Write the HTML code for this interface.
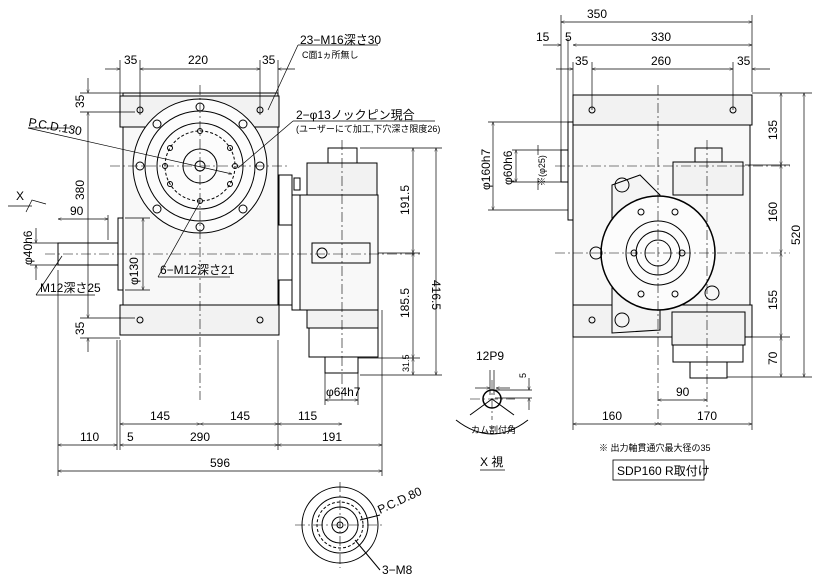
<!DOCTYPE html>
<html><head><meta charset="utf-8"><style>
html,body{margin:0;padding:0;background:#fff}
svg{display:block}
text{font-family:"Liberation Sans","Noto Sans CJK JP",sans-serif;font-size:12px;fill:#000}
.s{font-size:9px}
</style></head><body>
<svg width="819" height="583" viewBox="0 0 819 583" xmlns="http://www.w3.org/2000/svg">
<defs>
<marker id="a" viewBox="0 0 10 10" refX="10" refY="5" markerWidth="7" markerHeight="5" orient="auto-start-reverse"><path d="M0,1L10,5L0,9" fill="none" stroke="#000"/></marker>
</defs>
<g stroke="#000" stroke-width="1" fill="none">
<rect x="123" y="93" width="155" height="242" fill="#f8f8f8"/>
<rect x="120" y="96" width="159" height="31" fill="#f2f2f2"/>
<rect x="120" y="305" width="159" height="30" fill="#f2f2f2"/>
<rect x="118" y="218" width="5" height="72"/>
<circle cx="200" cy="166" r="67" fill="#fcfcfc"/>
<circle cx="200" cy="166" r="55"/>
<circle cx="200" cy="166" r="43"/>
<circle cx="200" cy="166" r="17"/>
<circle cx="200" cy="166" r="5"/>
<circle cx="200" cy="166" r="35" stroke-dasharray="3,2"/>
<g>
<circle cx="200" cy="107" r="4"/><circle cx="200" cy="227" r="4"/><circle cx="140" cy="166" r="4"/><circle cx="260" cy="166" r="4"/>
<circle cx="157" cy="124" r="4"/><circle cx="243" cy="124" r="4"/><circle cx="157" cy="209" r="4"/><circle cx="243" cy="209" r="4"/>
<circle cx="200" cy="131" r="2.5"/><circle cx="200" cy="201" r="2.5"/><circle cx="170" cy="148" r="2.5"/><circle cx="230" cy="148" r="2.5"/><circle cx="170" cy="184" r="2.5"/><circle cx="230" cy="184" r="2.5"/><circle cx="165" cy="166" r="2.5"/><circle cx="235" cy="166" r="2.5"/>
</g>
<circle cx="140" cy="110" r="3"/><circle cx="260" cy="110" r="3"/><circle cx="140" cy="320" r="3"/><circle cx="260" cy="320" r="3"/>
<rect x="58" y="243" width="60" height="22"/>
<rect x="279" y="175" width="13" height="50"/><rect x="279" y="280" width="13" height="25"/>
<rect x="292" y="195" width="10" height="115"/>
<rect x="300" y="195" width="78" height="115" fill="#f8f8f8"/>
<rect x="312" y="243" width="58" height="20"/>
<circle cx="322" cy="253" r="5"/>
<rect x="307" y="163" width="70" height="32" fill="#f2f2f2"/>
<rect x="328" y="148" width="29" height="15"/>
<rect x="307" y="310" width="71" height="18" fill="#f2f2f2"/>
<rect x="309" y="328" width="69" height="29"/>
<rect x="325" y="357" width="33" height="16"/>
<rect x="294" y="178" width="6" height="12"/>
<rect x="573" y="122" width="177" height="183" fill="#f8f8f8"/>
<rect x="573" y="95" width="179" height="30" fill="#f2f2f2"/>
<rect x="573" y="305" width="179" height="32" fill="#f2f2f2"/>
<rect x="568" y="122" width="5" height="98"/>
<rect x="561" y="150" width="7" height="32"/>
<path d="M612,185 L640,175 L660,195 L660,330 L612,333 Z" fill="#f4f4f4"/>
<circle cx="622" cy="185" r="7"/><circle cx="622" cy="320" r="7"/>
<circle cx="658" cy="253" r="57" fill="#fcfcfc" stroke-width="1.5"/>
<circle cx="658" cy="253" r="32"/><circle cx="658" cy="253" r="22"/><circle cx="658" cy="253" r="13"/>
<circle cx="634" cy="253" r="3"/><circle cx="682" cy="253" r="3"/><circle cx="641" cy="212" r="3"/><circle cx="675" cy="212" r="3"/><circle cx="641" cy="294" r="3"/><circle cx="675" cy="294" r="3"/>
<circle cx="596" cy="253" r="6"/>
<circle cx="712" cy="293" r="7"/>
<rect x="673" y="162" width="70" height="33" fill="#f2f2f2"/>
<rect x="695" y="148" width="27" height="14"/>
<rect x="672" y="312" width="73" height="33" fill="#f2f2f2"/>
<rect x="673" y="345" width="70" height="17"/>
<rect x="690" y="362" width="37" height="16"/>
<circle cx="592" cy="110" r="3"/><circle cx="733" cy="110" r="3"/><circle cx="592" cy="320" r="3"/>
<circle cx="492" cy="399" r="9" stroke-width="1.5"/>
<path d="M456,420 Q492,448 528,420"/>
<path d="M492,399 L470,415 M492,399 L514,415"/>
<circle cx="340" cy="525" r="38"/><circle cx="340" cy="525" r="28"/><circle cx="340" cy="525" r="18"/><circle cx="340" cy="525" r="8"/><circle cx="340" cy="525" r="3"/>
<circle cx="340" cy="525" r="23" stroke-dasharray="3,2"/>
<line x1="380" y1="515" x2="360" y2="520"/><line x1="380" y1="570" x2="355" y2="540"/>
</g>
<g stroke="#000" stroke-width="0.6" stroke-dasharray="10,3,2,3" fill="none">
<line x1="200" y1="85" x2="200" y2="400"/><line x1="110" y1="166" x2="290" y2="166"/>
<line x1="45" y1="254" x2="420" y2="254"/><line x1="342" y1="140" x2="342" y2="400"/>
<line x1="658" y1="85" x2="658" y2="425"/><line x1="555" y1="253" x2="790" y2="253"/>
<line x1="707" y1="140" x2="707" y2="410"/><line x1="555" y1="166" x2="790" y2="166"/>
<line x1="470" y1="399" x2="515" y2="399"/><line x1="492" y1="380" x2="492" y2="420"/>
<line x1="295" y1="525" x2="385" y2="525"/><line x1="340" y1="482" x2="340" y2="568"/>
</g>
<g stroke="#000" stroke-width="0.7" fill="none">
<line x1="120" y1="60" x2="120" y2="96"/><line x1="140" y1="60" x2="140" y2="115"/><line x1="260" y1="60" x2="260" y2="115"/><line x1="278" y1="60" x2="278" y2="96"/>
<line x1="105" y1="69" x2="120" y2="69" marker-end="url(#a)"/><line x1="140" y1="69" x2="260" y2="69" marker-start="url(#a)" marker-end="url(#a)"/><line x1="295" y1="69" x2="278" y2="69" marker-end="url(#a)"/>
<line x1="80" y1="93" x2="123" y2="93"/><line x1="80" y1="112" x2="135" y2="112"/><line x1="80" y1="318" x2="135" y2="318"/><line x1="80" y1="338" x2="120" y2="338"/>
<line x1="88" y1="78" x2="88" y2="93" marker-end="url(#a)"/><line x1="88" y1="112" x2="88" y2="318" marker-start="url(#a)" marker-end="url(#a)"/><line x1="88" y1="352" x2="88" y2="338" marker-end="url(#a)"/>
<line x1="120" y1="340" x2="120" y2="450"/><line x1="117" y1="340" x2="117" y2="450"/><line x1="278" y1="340" x2="278" y2="450"/><line x1="58" y1="270" x2="58" y2="476"/><line x1="382" y1="310" x2="382" y2="476"/>
<line x1="120" y1="424" x2="200" y2="424" marker-start="url(#a)" marker-end="url(#a)"/><line x1="200" y1="424" x2="278" y2="424" marker-start="url(#a)" marker-end="url(#a)"/><line x1="278" y1="424" x2="342" y2="424" marker-start="url(#a)" marker-end="url(#a)"/>
<line x1="58" y1="445" x2="117" y2="445" marker-start="url(#a)" marker-end="url(#a)"/><line x1="120" y1="445" x2="278" y2="445" marker-start="url(#a)" marker-end="url(#a)"/><line x1="278" y1="445" x2="382" y2="445" marker-start="url(#a)" marker-end="url(#a)"/>
<line x1="58" y1="471" x2="382" y2="471" marker-start="url(#a)" marker-end="url(#a)"/>
<line x1="58" y1="219" x2="108" y2="219" marker-start="url(#a)" marker-end="url(#a)"/><line x1="108" y1="215" x2="108" y2="240"/>
<line x1="30" y1="243" x2="58" y2="243"/><line x1="30" y1="265" x2="58" y2="265"/>
<line x1="36" y1="228" x2="36" y2="243" marker-end="url(#a)"/><line x1="36" y1="280" x2="36" y2="265" marker-end="url(#a)"/>
<line x1="125" y1="218" x2="150" y2="218"/><line x1="125" y1="290" x2="150" y2="290"/><line x1="143" y1="218" x2="143" y2="290" marker-start="url(#a)" marker-end="url(#a)"/>
<line x1="360" y1="148" x2="442" y2="148"/><line x1="378" y1="253" x2="420" y2="253"/><line x1="358" y1="358" x2="420" y2="358"/><line x1="360" y1="375" x2="442" y2="375"/>
<line x1="413" y1="148" x2="413" y2="253" marker-start="url(#a)" marker-end="url(#a)"/><line x1="413" y1="253" x2="413" y2="358" marker-start="url(#a)" marker-end="url(#a)"/><line x1="413" y1="358" x2="413" y2="375" marker-start="url(#a)" marker-end="url(#a)"/>
<line x1="436" y1="148" x2="436" y2="375" marker-start="url(#a)" marker-end="url(#a)"/>
<line x1="325" y1="373" x2="325" y2="405"/><line x1="358" y1="373" x2="358" y2="405"/><line x1="325" y1="400" x2="358" y2="400" marker-start="url(#a)" marker-end="url(#a)"/>
<line x1="28" y1="128" x2="232" y2="174" marker-end="url(#a)"/><line x1="28" y1="128" x2="72" y2="128"/>
<line x1="298" y1="45" x2="268" y2="110"/><line x1="298" y1="45" x2="378" y2="45"/>
<line x1="293" y1="121" x2="435" y2="121"/><line x1="293" y1="121" x2="238" y2="168"/>
<line x1="158" y1="277" x2="230" y2="277"/><line x1="158" y1="277" x2="200" y2="202"/>
<line x1="36" y1="295" x2="95" y2="295"/><line x1="36" y1="295" x2="62" y2="256"/>
<line x1="8" y1="206" x2="32" y2="206"/><path d="M26,212 L32,200 L46,204"/>
<line x1="561" y1="15" x2="561" y2="150"/><line x1="568" y1="38" x2="568" y2="122"/><line x1="752" y1="15" x2="752" y2="92"/><line x1="573" y1="62" x2="573" y2="96"/><line x1="592" y1="62" x2="592" y2="110"/><line x1="733" y1="62" x2="733" y2="110"/>
<line x1="561" y1="22" x2="752" y2="22" marker-start="url(#a)" marker-end="url(#a)"/>
<line x1="543" y1="45" x2="561" y2="45" marker-end="url(#a)"/><line x1="573" y1="45" x2="752" y2="45" marker-start="url(#a)" marker-end="url(#a)"/>
<line x1="556" y1="69" x2="573" y2="69" marker-end="url(#a)"/><line x1="592" y1="69" x2="733" y2="69" marker-start="url(#a)" marker-end="url(#a)"/><line x1="770" y1="69" x2="752" y2="69" marker-end="url(#a)"/>
<line x1="752" y1="93" x2="812" y2="93"/><line x1="745" y1="165" x2="790" y2="165"/><line x1="752" y1="337" x2="790" y2="337"/><line x1="727" y1="377" x2="812" y2="377"/>
<line x1="781" y1="93" x2="781" y2="165" marker-start="url(#a)" marker-end="url(#a)"/><line x1="781" y1="165" x2="781" y2="253" marker-start="url(#a)" marker-end="url(#a)"/><line x1="781" y1="253" x2="781" y2="337" marker-start="url(#a)" marker-end="url(#a)"/><line x1="781" y1="337" x2="781" y2="377" marker-start="url(#a)" marker-end="url(#a)"/>
<line x1="804" y1="93" x2="804" y2="377" marker-start="url(#a)" marker-end="url(#a)"/>
<line x1="488" y1="122" x2="568" y2="122"/><line x1="488" y1="210" x2="568" y2="210"/><line x1="493" y1="122" x2="493" y2="210" marker-start="url(#a)" marker-end="url(#a)"/>
<line x1="512" y1="150" x2="561" y2="150"/><line x1="512" y1="182" x2="561" y2="182"/><line x1="516" y1="150" x2="516" y2="182" marker-start="url(#a)" marker-end="url(#a)"/>
<line x1="538" y1="145" x2="538" y2="155" /><line x1="538" y1="190" x2="538" y2="178"/>
<line x1="573" y1="337" x2="573" y2="430"/><line x1="752" y1="337" x2="752" y2="430"/>
<line x1="658" y1="400" x2="707" y2="400" marker-start="url(#a)" marker-end="url(#a)"/>
<line x1="573" y1="424" x2="658" y2="424" marker-start="url(#a)" marker-end="url(#a)"/><line x1="658" y1="424" x2="752" y2="424" marker-start="url(#a)" marker-end="url(#a)"/>
<line x1="475" y1="388" x2="490" y2="388" marker-end="url(#a)"/><line x1="510" y1="388" x2="496" y2="388" marker-end="url(#a)"/>
<line x1="490" y1="370" x2="490" y2="395"/><line x1="494" y1="370" x2="494" y2="395"/>
<line x1="495" y1="390" x2="532" y2="390"/><line x1="495" y1="398" x2="532" y2="398"/>
<line x1="529" y1="378" x2="529" y2="390" marker-end="url(#a)"/><line x1="529" y1="410" x2="529" y2="398" marker-end="url(#a)"/>
<line x1="480" y1="470" x2="505" y2="470"/>
</g>
<rect x="613" y="460" width="91" height="20" fill="none" stroke="#000" stroke-width="0.8"/>
<text x="124" y="64">35</text><text x="188" y="64">220</text><text x="262" y="64">35</text>
<text x="300" y="44">23−M16深さ30</text><text class="s" x="302" y="58">C面1ヵ所無し</text>
<text x="296" y="119">2−φ13ノックピン現合</text><text class="s" x="296" y="132">(ユーザーにて加工,下穴深さ限度26)</text>
<text x="28" y="126" transform="rotate(10 28 126)">P.C.D.130</text>
<text x="70" y="215">90</text><text x="16" y="200">X</text>
<text x="160" y="274">6−M12深さ21</text><text x="40" y="292">M12深さ25</text>
<text transform="translate(84 108) rotate(-90)">35</text><text transform="translate(84 200) rotate(-90)">380</text><text transform="translate(84 335) rotate(-90)">35</text>
<text transform="translate(32 265) rotate(-90)">φ40h6</text><text transform="translate(138 285) rotate(-90)">φ130</text>
<text transform="translate(409 215) rotate(-90)">191.5</text><text transform="translate(409 318) rotate(-90)">185.5</text><text class="s" transform="translate(409 372) rotate(-90)">31.5</text><text transform="translate(432 280) rotate(90)">416.5</text>
<text x="326" y="396">φ64h7</text>
<text x="150" y="420">145</text><text x="230" y="420">145</text><text x="298" y="420">115</text>
<text x="80" y="441">110</text><text x="127" y="441">5</text><text x="190" y="441">290</text><text x="322" y="441">191</text>
<text x="210" y="467">596</text>
<text x="587" y="18">350</text><text x="536" y="41">15</text><text x="565" y="41">5</text><text x="651" y="41">330</text>
<text x="575" y="65">35</text><text x="651" y="65">260</text><text x="737" y="65">35</text>
<text transform="translate(777 140) rotate(-90)">135</text><text transform="translate(777 222) rotate(-90)">160</text><text transform="translate(777 310) rotate(-90)">155</text><text transform="translate(777 365) rotate(-90)">70</text><text transform="translate(800 245) rotate(-90)">520</text>
<text transform="translate(490 190) rotate(-90)">φ160h7</text><text transform="translate(512 185) rotate(-90)">φ60h6</text><text class="s" transform="translate(545 186) rotate(-90)">※(φ25)</text>
<text x="676" y="396">90</text><text x="602" y="420">160</text><text x="697" y="420">170</text>
<text class="s" x="599" y="451">※ 出力軸貫通穴最大径の35</text>
<text x="617" y="475">SDP160  R取付け</text>
<text x="476" y="360">12P9</text><text class="s" transform="translate(526 378) rotate(-90)">5</text>
<text class="s" x="471" y="433">カム割付角</text><text x="480" y="466">X  視</text>
<text transform="translate(380 514) rotate(-25)">P.C.D.80</text><text x="382" y="574">3−M8</text>
</svg>
</body></html>
